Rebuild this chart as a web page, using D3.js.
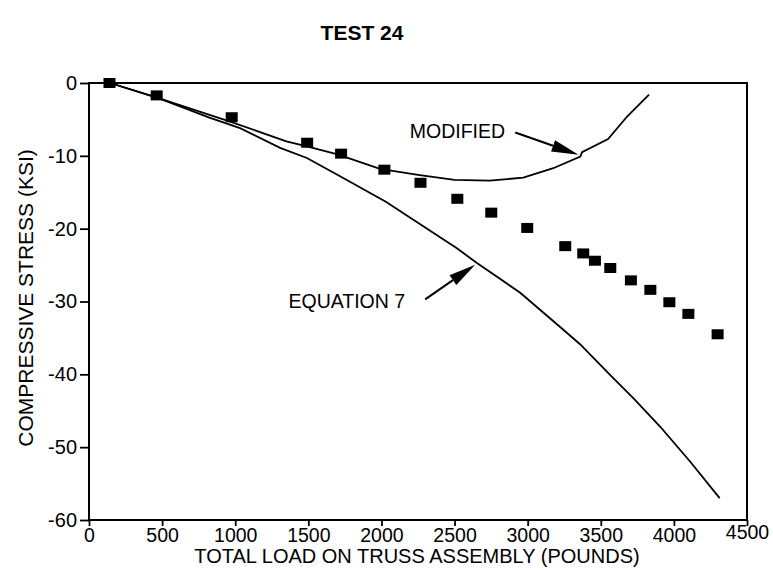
<!DOCTYPE html>
<html>
<head>
	<meta charset="utf-8">
	<title>TEST 24</title>
	<script src="https://d3js.org/d3.v7.min.js"></script>
	<style>
		body { margin: 0; background: #fff; }
		text { font-family: "Liberation Sans", Arial, Helvetica, sans-serif; fill: #000; }
	</style>
</head>
<body>
	<svg id="chart" width="773" height="571"></svg>

	<script type="text/javascript">
// test points (squares)
var testLoad   = [140, 463, 976, 1492, 1724, 2020, 2267, 2519, 2751, 2997, 3257, 3380, 3460, 3565, 3706, 3839, 3969, 4099, 4299];
var testStress = [0, -1.7, -4.7, -8.2, -9.7, -11.9, -13.7, -15.9, -17.8, -19.9, -22.4, -23.4, -24.4, -25.4, -27.1, -28.4, -30.1, -31.7, -34.5];

// "MODIFIED" curve
var modLoad   = [144, 465, 965, 1350, 1490, 1700, 1990, 2250, 2500, 2740, 2970, 3175, 3360, 3372, 3550, 3680, 3830];
var modStress = [0, -2.0, -5.3, -8.0, -8.7, -9.8, -11.8, -12.6, -13.3, -13.4, -13.0, -11.7, -10.1, -9.5, -7.7, -4.6, -1.6];

// "EQUATION 7" curve
var eqLoad   = [144, 465, 828, 1033, 1307, 1490, 1717, 2030, 2516, 2653, 2949, 3234, 3360, 3565, 3724, 3907, 4112, 4313];
var eqStress = [0, -2.0, -4.8, -6.2, -8.9, -10.3, -12.8, -16.3, -22.7, -24.7, -28.8, -33.7, -35.9, -40.1, -43.3, -47.2, -52.0, -57.0];

// axis ticks
var xTicks = [0, 500, 1000, 1500, 2000, 2500, 3000, 3500, 4000, 4500];
var yTicks = [0, -10, -20, -30, -40, -50, -60];

// annotations: label, text anchor point, arrow tail, arrow tip (data units)
var notes = [
    { label: 'MODIFIED',   tx: 2846, ty: -6.65, ax: 2915, ay: -6.8,  bx: 3348, by: -9.85 },
    { label: 'EQUATION 7', tx: 2162, ty: -30.0, ax: 2299, ay: -29.7, bx: 2641, by: -24.96 }
];

var svg = d3.select('#chart'),
    width = 773, height = 571,
    margin = { top: 83, right: 26, bottom: 51, left: 89 };

var x = d3.scaleLinear().domain([0, 4500]).range([margin.left, width - margin.right]);
var y = d3.scaleLinear().domain([-60, 0]).range([height - margin.bottom, margin.top]);

// plain labels: hyphen minus, no thousands comma
var plain = function(d) { return String(d); };

// title
svg.append('text')
   .attr('x', 362).attr('y', 40)
   .attr('text-anchor', 'middle')
   .style('font-size', '21px').style('font-weight', 'bold')
   .text('TEST 24');

// axes
var xAxis = svg.append('g')
   .attr('transform', 'translate(0,' + y(-60) + ')')
   .call(d3.axisBottom(x).tickValues(xTicks).tickFormat(plain).tickSize(6).tickPadding(2).tickSizeOuter(0));
xAxis.selectAll('text').style('font-size', '19.5px');
xAxis.selectAll('text').filter(function(d) { return d === 4500; }).attr('dy', '0.55em');

var yAxis = svg.append('g')
   .attr('transform', 'translate(' + x(0) + ',0)')
   .call(d3.axisLeft(y).tickValues(yTicks).tickFormat(plain).tickSize(9).tickPadding(3).tickSizeOuter(0));
yAxis.selectAll('text').style('font-size', '20px');

svg.selectAll('.domain').remove();
svg.selectAll('.tick line').attr('stroke', '#000').attr('stroke-width', 1.8);

// frame
svg.append('rect')
   .attr('x', x(0)).attr('y', y(0))
   .attr('width', x(4500) - x(0)).attr('height', y(-60) - y(0))
   .attr('fill', 'none').attr('stroke', '#000').attr('stroke-width', 2);

// axis titles
svg.append('text')
   .attr('x', 417).attr('y', 563)
   .attr('text-anchor', 'middle')
   .style('font-size', '20px')
   .text('TOTAL LOAD ON TRUSS ASSEMBLY (POUNDS)');

svg.append('text')
   .attr('transform', 'translate(33,' + 298 + ') rotate(-90)')
   .attr('text-anchor', 'middle')
   .style('font-size', '21px')
   .text('COMPRESSIVE STRESS (KSI)');

// curves
var line = d3.line()
    .x(function(d) { return x(d[0]); })
    .y(function(d) { return y(d[1]); });

svg.append('path')
   .attr('d', line(d3.zip(eqLoad, eqStress)))
   .attr('fill', 'none').attr('stroke', '#000').attr('stroke-width', 1.8);

svg.append('path')
   .attr('d', line(d3.zip(modLoad, modStress)))
   .attr('fill', 'none').attr('stroke', '#000').attr('stroke-width', 1.8);

// test points
svg.append('g').selectAll('rect')
   .data(d3.zip(testLoad, testStress))
   .enter().append('rect')
   .attr('x', function(d) { return x(d[0]) - 6; })
   .attr('y', function(d) { return y(d[1]) - 5; })
   .attr('width', 12).attr('height', 10)
   .attr('fill', '#000');

// annotations
notes.forEach(function(n) {
    svg.append('text')
       .attr('x', x(n.tx)).attr('y', y(n.ty))
       .attr('dy', '0.35em')
       .attr('text-anchor', 'end')
       .style('font-size', '19.5px')
       .text(n.label);

    var x1 = x(n.ax), y1 = y(n.ay), x2 = x(n.bx), y2 = y(n.by);
    var len = Math.sqrt((x2 - x1) * (x2 - x1) + (y2 - y1) * (y2 - y1));
    var ux = (x2 - x1) / len, uy = (y2 - y1) / len;
    var head = 27, half = 6;
    var bx = x2 - ux * head, by = y2 - uy * head;

    svg.append('line')
       .attr('x1', x1).attr('y1', y1).attr('x2', bx).attr('y2', by)
       .attr('stroke', '#000').attr('stroke-width', 2);

    svg.append('path')
       .attr('d', 'M' + x2 + ',' + y2 +
                  'L' + (bx - uy * half) + ',' + (by + ux * half) +
                  'L' + (bx + uy * half) + ',' + (by - ux * half) + 'Z')
       .attr('fill', '#000');
});
	</script>
</body>
</html>
